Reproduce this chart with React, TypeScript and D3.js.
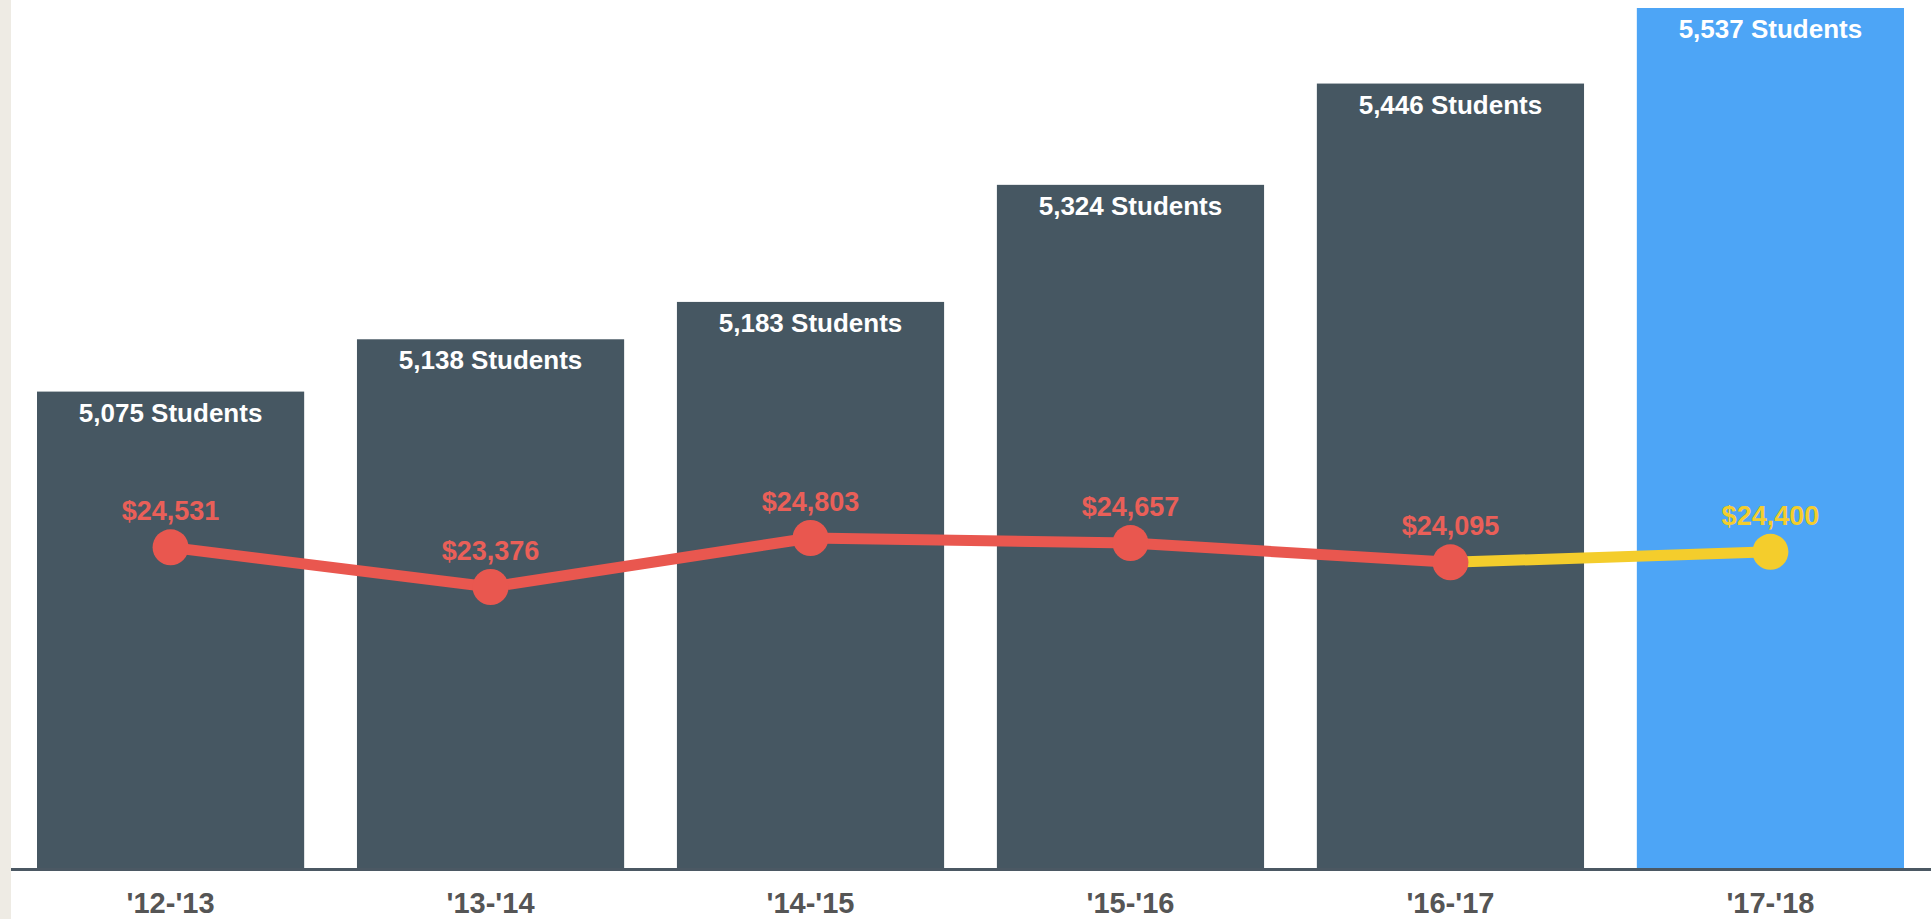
import React from "react";
import * as d3 from "d3";

const categories = ["'12-'13", "'13-'14", "'14-'15", "'15-'16", "'16-'17", "'17-'18"];
const students = [5075, 5138, 5183, 5324, 5446, 5537];
const costs = [24531, 23376, 24803, 24657, 24095, 24400];
const projectedIndex = 5;

const W = 1931;
const H = 919;

const DARK = "#465762";
const BLUE = "#4da5f6";
const RED = "#e9574f";
const YELLOW = "#f4cd2c";
const FONT = "'Liberation Sans', Arial, Helvetica, sans-serif";

export default function App() {
  const x = d3.scaleBand<string>().domain(categories).range([37, 1904]).paddingInner(0.165).paddingOuter(0);
  const baseY = 869;
  const y = d3.scaleLinear().domain([4500, 5537]).range([baseY, 8]);
  const y2 = d3.scaleLinear().domain([23376, 24803]).range([587, 538]);
  const bw = x.bandwidth();
  const cx = (c: string) => (x(c) as number) + bw / 2;

  const line = d3.line<number>().x((_, i) => cx(categories[i])).y((d) => y2(d));
  const redPath = line(costs.slice(0, projectedIndex)) || "";
  const yellowPath =
    d3.line<number>().x((_, i) => cx(categories[projectedIndex - 1 + i])).y((d) => y2(d))(
      costs.slice(projectedIndex - 1)
    ) || "";

  const fmt = d3.format(",");

  return (
    <svg width={W} height={H} style={{ position: "absolute", left: 0, top: 0, background: "#fff" }}>
      <rect x={0} y={0} width={11} height={H} fill="#eeebe4" />
      {categories.map((c, i) => (
        <g key={c}>
          <rect
            x={x(c)}
            y={y(students[i])}
            width={bw}
            height={baseY - y(students[i])}
            fill={i === projectedIndex ? BLUE : DARK}
          />
          <text
            x={cx(c)}
            y={y(students[i]) + 30}
            textAnchor="middle"
            fill="#fff"
            fontFamily={FONT}
            fontWeight="bold"
            fontSize={26}
          >
            {fmt(students[i])} Students
          </text>
          <text
            x={cx(c)}
            y={913}
            textAnchor="middle"
            fill="#555"
            fontFamily={FONT}
            fontWeight="bold"
            fontSize={29}
          >
            {c}
          </text>
        </g>
      ))}
      <rect x={11} y={868} width={W - 11} height={3} fill="#4b5863" />
      <path d={yellowPath} fill="none" stroke={YELLOW} strokeWidth={11} />
      <path d={redPath} fill="none" stroke={RED} strokeWidth={11} strokeLinejoin="round" />
      {costs.map((v, i) => (
        <g key={i}>
          <circle cx={cx(categories[i])} cy={y2(v)} r={18} fill={i === projectedIndex ? YELLOW : RED} />
          <text
            x={cx(categories[i])}
            y={y2(v) - 27}
            textAnchor="middle"
            fill={i === projectedIndex ? YELLOW : "#ea5f58"}
            fontFamily={FONT}
            fontWeight="bold"
            fontSize={27}
          >
            ${fmt(v)}
          </text>
        </g>
      ))}
    </svg>
  );
}
